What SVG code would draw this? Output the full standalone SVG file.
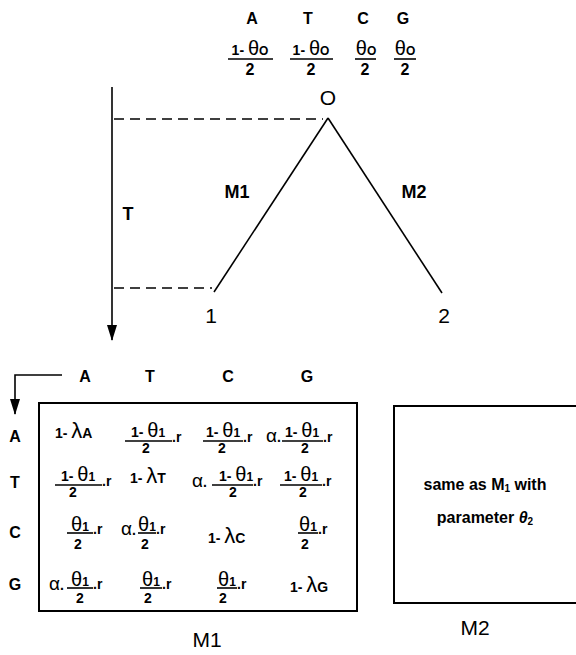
<svg xmlns="http://www.w3.org/2000/svg" width="576" height="655" viewBox="0 0 576 655">
<style>
text{font-family:"Liberation Sans","DejaVu Sans",sans-serif;fill:#000}
.h{font-size:16px;font-weight:bold;text-anchor:middle}
.n{font-size:14px;font-weight:bold;text-anchor:middle}
.s{font-size:12px;font-weight:bold}
.th{font-size:20px;font-weight:normal}
.lam{font-size:22px;font-weight:normal}
.r{font-size:14px;font-weight:bold}
.a{font-size:19px;font-weight:normal}
.lbl{font-size:18px;font-weight:bold;text-anchor:middle}
.big{font-size:21px;text-anchor:middle}
.fl{stroke:#000;stroke-width:1.6}
.ln{stroke:#000;stroke-width:1.6;fill:none}
.dash{stroke:#000;stroke-width:1.4;stroke-dasharray:10,6;fill:none}
.box{stroke:#000;stroke-width:2;fill:none}
.m2t{font-size:16px;font-weight:bold;text-anchor:middle}
</style>
<defs>
<marker id="arr" markerWidth="16" markerHeight="10" refX="15" refY="5" orient="auto" markerUnits="userSpaceOnUse" viewBox="0 0 16 10">
<path d="M0,0 L16,5 L0,10 Z" fill="#000"/>
</marker>
</defs>

<g id="root-distribution">
<text class="h" x="252" y="24">A</text>
<text class="h" x="308" y="24">T</text>
<text class="h" x="363" y="24">C</text>
<text class="h" x="403" y="24">G</text>
<text class="n" x="250" y="55">1- <tspan class="th">θ</tspan><tspan class="s">O</tspan></text>
<line class="fl" x1="228" y1="59" x2="273" y2="59"/>
<text class="h" x="250" y="75">2</text>
<text class="n" x="311" y="55">1- <tspan class="th">θ</tspan><tspan class="s">O</tspan></text>
<line class="fl" x1="290" y1="59" x2="333" y2="59"/>
<text class="h" x="311" y="75">2</text>
<text class="n" x="366" y="55"><tspan class="th">θ</tspan><tspan class="s">O</tspan></text>
<line class="fl" x1="355" y1="59" x2="376" y2="59"/>
<text class="h" x="365" y="75">2</text>
<text class="n" x="405" y="55"><tspan class="th">θ</tspan><tspan class="s">O</tspan></text>
<line class="fl" x1="394" y1="59" x2="416" y2="59"/>
<text class="h" x="405" y="75">2</text>
</g>

<g id="node-O"><text class="big" x="328" y="105" font-size="19">O</text></g>
<g id="node-1"><text class="big" x="211" y="323">1</text></g>
<g id="node-2"><text class="big" x="444" y="323">2</text></g>

<g id="connectors">
<line class="ln" x1="328" y1="118" x2="214" y2="292"/>
<line class="ln" x1="328" y1="118" x2="442" y2="293"/>
<line class="dash" x1="114" y1="119" x2="323" y2="119"/>
<line class="dash" x1="114" y1="288" x2="212" y2="288"/>
<line class="ln" x1="112" y1="87" x2="112" y2="340" marker-end="url(#arr)"/>
<path class="ln" d="M62,375 H15 V414" marker-end="url(#arr)"/>
</g>

<g id="tree-labels">
<text class="lbl" x="128" y="220" font-size="20">T</text>
<text class="lbl" x="237" y="198">M1</text>
<text class="lbl" x="414" y="198">M2</text>
</g>

<g id="matrix-M1">
<text class="h" x="85" y="382">A</text>
<text class="h" x="150" y="382">T</text>
<text class="h" x="228" y="382">C</text>
<text class="h" x="307" y="382">G</text>
<text class="h" x="15" y="442" font-size="15">A</text>
<text class="h" x="15" y="488" font-size="15">T</text>
<text class="h" x="15" y="538" font-size="15">C</text>
<text class="h" x="15" y="590" font-size="15">G</text>
<rect class="box" x="39" y="403" width="318" height="208"/>

<!-- row A -->
<text class="r" x="55" y="438" font-size="13">1- <tspan class="lam">λ</tspan><tspan font-size="14">A</tspan></text>
<text class="n" x="148" y="437">1- <tspan class="th">θ</tspan><tspan class="s">1</tspan></text>
<line class="fl" x1="125" y1="441" x2="172" y2="441"/>
<text class="r" x="172" y="442">.r</text>
<text class="n" x="146" y="453" font-size="15">2</text>

<text class="n" x="223" y="437">1- <tspan class="th">θ</tspan><tspan class="s">1</tspan></text>
<line class="fl" x1="203" y1="441" x2="243" y2="441"/>
<text class="r" x="243" y="442">.r</text>
<text class="n" x="222" y="453" font-size="15">2</text>

<text class="r" x="266" y="442"><tspan class="a">α</tspan>.</text>
<text class="n" x="302" y="437">1- <tspan class="th">θ</tspan><tspan class="s">1</tspan></text>
<line class="fl" x1="282" y1="441" x2="323" y2="441"/>
<text class="r" x="323" y="442">.r</text>
<text class="n" x="305" y="453" font-size="15">2</text>

<!-- row T -->
<text class="n" x="78" y="481">1- <tspan class="th">θ</tspan><tspan class="s">1</tspan></text>
<line class="fl" x1="55" y1="485" x2="102" y2="485"/>
<text class="r" x="102" y="486">.r</text>
<text class="n" x="73" y="497" font-size="15">2</text>

<text class="r" x="130" y="483" font-size="13">1- <tspan class="lam">λ</tspan><tspan font-size="14">T</tspan></text>

<text class="r" x="192" y="487"><tspan class="a">α</tspan>.</text>
<text class="n" x="236" y="481">1- <tspan class="th">θ</tspan><tspan class="s">1</tspan></text>
<line class="fl" x1="212" y1="485" x2="253" y2="485"/>
<text class="r" x="253" y="486">.r</text>
<text class="n" x="233" y="497" font-size="15">2</text>

<text class="n" x="301" y="481">1- <tspan class="th">θ</tspan><tspan class="s">1</tspan></text>
<line class="fl" x1="280" y1="485" x2="322" y2="485"/>
<text class="r" x="322" y="486">.r</text>
<text class="n" x="303" y="497" font-size="15">2</text>

<!-- row C -->
<text class="n" x="80" y="531"><tspan class="th">θ</tspan><tspan class="s">1</tspan></text>
<line class="fl" x1="67" y1="533" x2="93" y2="533"/>
<text class="r" x="93" y="534">.r</text>
<text class="n" x="78" y="549" font-size="15">2</text>

<text class="r" x="121" y="535"><tspan class="a">α</tspan>.</text>
<text class="n" x="147" y="531"><tspan class="th">θ</tspan><tspan class="s">1</tspan></text>
<line class="fl" x1="138" y1="533" x2="156" y2="533"/>
<text class="r" x="156" y="534">.r</text>
<text class="n" x="145" y="549" font-size="15">2</text>

<text class="r" x="208" y="543" font-size="13">1- <tspan class="lam">λ</tspan><tspan font-size="14">C</tspan></text>

<text class="n" x="308" y="531"><tspan class="th">θ</tspan><tspan class="s">1</tspan></text>
<line class="fl" x1="298" y1="533" x2="318" y2="533"/>
<text class="r" x="318" y="534">.r</text>
<text class="n" x="305" y="549" font-size="15">2</text>

<!-- row G -->
<text class="r" x="49" y="590"><tspan class="a">α</tspan>.</text>
<text class="n" x="80" y="586"><tspan class="th">θ</tspan><tspan class="s">1</tspan></text>
<line class="fl" x1="67" y1="588" x2="93" y2="588"/>
<text class="r" x="93" y="589">.r</text>
<text class="n" x="80" y="603" font-size="15">2</text>

<text class="n" x="151" y="586"><tspan class="th">θ</tspan><tspan class="s">1</tspan></text>
<line class="fl" x1="140" y1="588" x2="162" y2="588"/>
<text class="r" x="162" y="589">.r</text>
<text class="n" x="148" y="603" font-size="15">2</text>

<text class="n" x="227" y="586"><tspan class="th">θ</tspan><tspan class="s">1</tspan></text>
<line class="fl" x1="217" y1="588" x2="237" y2="588"/>
<text class="r" x="237" y="589">.r</text>
<text class="n" x="223" y="603" font-size="15">2</text>

<text class="r" x="290" y="592" font-size="13">1- <tspan class="lam">λ</tspan><tspan font-size="14">G</tspan></text>

<text class="big" x="207" y="647">M1</text>
</g>

<g id="matrix-M2">
<rect class="box" x="394" y="406" width="190" height="197"/>
<text class="m2t" x="485" y="490">same as M<tspan font-size="10" dy="2">1</tspan><tspan dy="-2"> with</tspan></text>
<text class="m2t" x="485" y="523">parameter <tspan font-style="italic">θ</tspan><tspan font-size="10" dy="2">2</tspan></text>
<text class="big" x="475" y="635">M2</text>
</g>
</svg>
